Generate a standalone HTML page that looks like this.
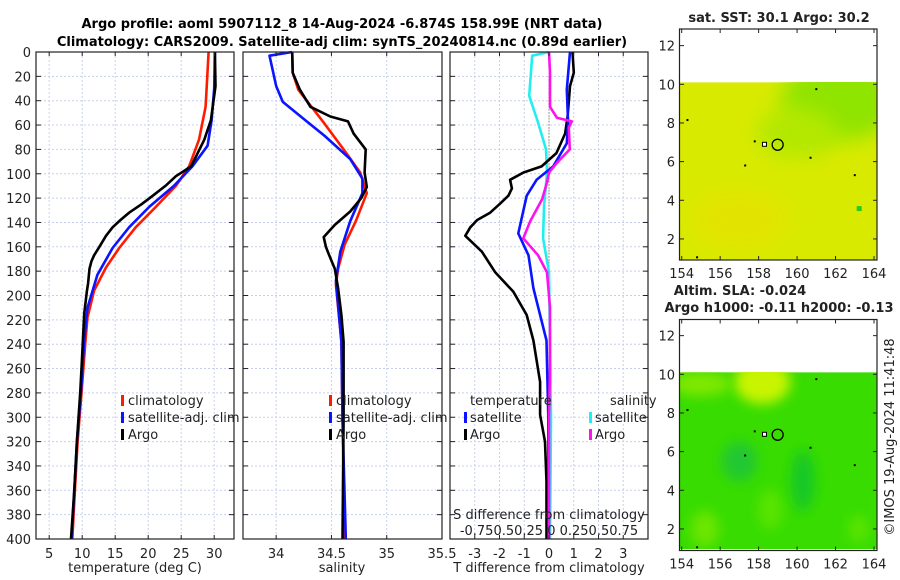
<!DOCTYPE html>
<html><head><meta charset="utf-8">
<style>
html,body{margin:0;padding:0;background:#fff;}
svg{display:block;font-family:"DejaVu Sans","Liberation Sans",sans-serif;}
</style></head>
<body>
<svg id="chart" width="900" height="580" viewBox="0 0 900 580" xmlns="http://www.w3.org/2000/svg">
<defs>
<filter id="blur6" x="-50%" y="-50%" width="200%" height="200%"><feGaussianBlur stdDeviation="6"/></filter>
<filter id="blur10" x="-50%" y="-50%" width="200%" height="200%"><feGaussianBlur stdDeviation="10"/></filter>
<clipPath id="clipTop"><rect x="680" y="82" width="197" height="178"/></clipPath>
<clipPath id="clipBot"><rect x="680" y="372" width="197" height="177"/></clipPath>
</defs>
<text x="342" y="28" text-anchor="middle" font-size="13" font-weight="bold">Argo profile: aoml 5907112_8 14-Aug-2024 -6.874S 158.99E (NRT data)</text>
<text x="342" y="46" text-anchor="middle" font-size="13" font-weight="bold">Climatology: CARS2009. Satellite-adj clim: synTS_20240814.nc (0.89d earlier)</text>
<g id="layer"></g>
</svg>
<script>
// ---- Data ----
const depthTicks = [0,20,40,60,80,100,120,140,160,180,200,220,240,260,280,300,320,340,360,380,400];
const tempTicks = [5,10,15,20,25,30];
const salTicks = [34,34.5,35,35.5];
const diffTicks = [-3,-2,-1,0,1,2,3];

const tClimDepth = [0,45,72,94,110,127,144,161,177,196,218,237,280,320,360,400];
const tClimVal   = [29.15,28.7,27.7,26.2,24.2,21.2,18.1,15.6,13.6,11.8,10.8,10.5,9.9,9.3,8.9,8.5];
const tSatDepth  = [0,30,56,77,94,110,127,144,161,183,210,237,280,320,360,400];
const tSatVal    = [30.1,30.0,29.6,29.0,26.7,23.9,20.2,17.1,14.6,12.3,10.8,10.3,9.8,9.2,8.8,8.4];
const tArgoDepth = [0,28,56,72,94,102,110,118,125,132,138,144,151,160,167,172,178,190,197,215,237,260,280,320,360,400];
const tArgoVal   = [30.1,30.2,29.5,28.5,26.5,24.2,22.6,20.7,19.0,17.1,15.8,14.6,13.6,12.6,11.8,11.4,11.1,10.9,10.7,10.3,10.1,9.9,9.7,9.2,8.8,8.3];

const sClimDepth = [0,17,31,45,58,80,99,116,139,158,178,191,238,300,400];
const sClimVal   = [34.145,34.15,34.2,34.32,34.43,34.61,34.76,34.82,34.72,34.62,34.56,34.54,34.59,34.6,34.62];
const sSatDepth  = [0,3,28,41,55,69,88,104,116,139,164,188,238,300,400];
const sSatVal    = [34.145,33.94,34.0,34.06,34.25,34.44,34.67,34.78,34.78,34.67,34.58,34.54,34.59,34.6,34.63];
const sArgoDepth = [0,17,31,45,53,57,67,80,99,111,120,131,142,152,160,167,178,194,216,238,300,400];
const sArgoVal   = [34.145,34.15,34.215,34.31,34.49,34.65,34.70,34.81,34.80,34.82,34.77,34.67,34.53,34.43,34.45,34.48,34.53,34.56,34.59,34.61,34.61,34.6];

const dTArgoDepth = [0,17,28,53,67,83,94,99,105,112,118,125,132,138,144,151,164,181,197,216,237,271,298,320,353,400];
const dTArgoVal   = [0.95,1.0,0.85,0.75,0.65,0.3,-0.3,-1.03,-1.57,-1.5,-1.64,-2.0,-2.38,-2.9,-3.18,-3.38,-2.71,-2.17,-1.44,-0.9,-0.63,-0.36,-0.36,-0.16,-0.1,-0.1];
const dTSatDepth  = [0,31,58,75,94,105,118,149,167,194,237,300,400];
const dTSatVal    = [0.85,0.72,0.77,0.72,0.17,-0.5,-0.9,-1.24,-0.83,-0.63,-0.1,-0.03,-0.02];
const dSArgoDepth = [0,17,45,54,57,62,80,91,99,107,121,139,153,167,181,210,260,300,400];
const dSArgoVal   = [0.0,0.01,0.01,0.08,0.23,0.2,0.21,0.08,0.0,-0.02,-0.07,-0.19,-0.26,-0.11,-0.02,0.01,0.01,0.0,0.0];
const dSSatDepth  = [0,3,36,58,80,99,127,153,181,240,300,400];
const dSSatVal    = [0.0,-0.17,-0.2,-0.11,-0.03,-0.02,-0.05,-0.06,0.0,0.01,0.02,0.01];

const mapXTicks = [154,156,158,160,162,164];
const mapYTicks = [2,4,6,8,10,12];

// ---- Helpers ----
const NS = "http://www.w3.org/2000/svg";
const layer = document.getElementById('layer');
function mk(tag, attrs, parent){ const e=document.createElementNS(NS,tag); for(const k in attrs) e.setAttribute(k,attrs[k]); (parent||layer).appendChild(e); return e; }
const Y0=52, Y1=539;
const yD = d => Y0 + d*(Y1-Y0)/400;
function xScale(x0,x1,v0,v1){ return v => x0 + (v-v0)*(x1-x0)/(v1-v0); }

const p1 = {x0:36,x1:234}, p2={x0:243,x1:442}, p3={x0:450,x1:648};
const xT = xScale(p1.x0,p1.x1,3.0,33.0);
const xS = xScale(p2.x0,p2.x1,33.7,35.5);
const xDT = xScale(p3.x0,p3.x1,-4,4);
const xDS = v => xDT(v*4);

function panel(p, xticks, xf, name){
  const g = mk('g',{});
  
  
  xticks.forEach(v=>{ const x=xf(v); if(x>p.x0+1 && x<p.x1-1){
    const l=mk('line',{x1:x,x2:x,y1:Y0,y2:Y1,stroke:'#c8cfee','stroke-width':1,'stroke-dasharray':'2,2'},g);
      }});
  depthTicks.forEach(d=>{ const y=yD(d); if(d>0&&d<400){
    const l=mk('line',{x1:p.x0,x2:p.x1,y1:y,y2:y,stroke:'#c8cfee','stroke-width':1,'stroke-dasharray':'2,2'},g);
      }});
  return g;
}
function frame(p, xticks, xf, g){
  xticks.forEach(v=>{ const x=xf(v);
    const t=mk('line',{x1:x,x2:x,y1:Y1,y2:Y1-4,stroke:'#222','stroke-width':1},g);
     
    const t2=mk('line',{x1:x,x2:x,y1:Y0,y2:Y0+4,stroke:'#222','stroke-width':1},g);
     
  });
  depthTicks.forEach(d=>{ const y=yD(d);
    const a=mk('line',{x1:p.x0,x2:p.x0+5,y1:y,y2:y,stroke:'#222','stroke-width':1},g);
     
    const b=mk('line',{x1:p.x1-5,x2:p.x1,y1:y,y2:y,stroke:'#222','stroke-width':1},g);
     
  });
  const r=mk('rect',{x:p.x0,y:Y0,width:p.x1-p.x0,height:Y1-Y0,fill:'none',stroke:'#222','stroke-width':1.2},g);
   
}
function line(depths, vals, xf, color, name, g, w){
  const d = depths.map((dd,i)=>(i?'L':'M')+xf(vals[i]).toFixed(1)+','+yD(dd).toFixed(1)).join(' ');
  const p = mk('path',{d:d,fill:'none',stroke:color,'stroke-width':w||2.6,'stroke-linejoin':'round'},g);
  
  
}
function txt(x,y,s,attrs,name,g){
  const t=mk('text',Object.assign({x:x,y:y,'font-size':13,fill:'#222'},attrs||{}),g);
  t.textContent=s;
  
  
  return t;
}
function legendBar(x,y,color,name,g){
  const r=mk('rect',{x:x,y:y-10,width:3,height:11,fill:color},g);
  
  
}

// Panel 1: temperature
const g1 = panel(p1,tempTicks,xT,'temperature-panel');
line(tClimDepth,tClimVal,xT,'#ff1a00','temperature-climatology-line',g1);
line(tSatDepth,tSatVal,xT,'#0a14ff','temperature-satellite-line',g1);
line(tArgoDepth,tArgoVal,xT,'#000','temperature-argo-line',g1);
frame(p1,tempTicks,xT,g1);
depthTicks.forEach(d=>txt(31,yD(d)+5,String(d),{'text-anchor':'end'},'y-tick-label',g1));
tempTicks.forEach(v=>txt(xT(v),558,String(v),{'text-anchor':'middle'},'x-tick-label',g1));
txt(135,572,'temperature (deg C)',{'text-anchor':'middle'},'x-axis-title',g1);
legendBar(121,405,'#ff1a00','legend-climatology-swatch',g1);
txt(128,405,'climatology',{},'legend-climatology',g1);
legendBar(121,422,'#0a14ff','legend-satellite-swatch',g1);
txt(128,422,'satellite-adj. clim',{},'legend-satellite-adj',g1);
legendBar(121,439,'#000','legend-argo-swatch',g1);
txt(128,439,'Argo',{},'legend-argo',g1);

// Panel 2: salinity
const g2 = panel(p2,salTicks,xS,'salinity-panel');
line(sClimDepth,sClimVal,xS,'#ff1a00','salinity-climatology-line',g2);
line(sSatDepth,sSatVal,xS,'#0a14ff','salinity-satellite-line',g2);
line(sArgoDepth,sArgoVal,xS,'#000','salinity-argo-line',g2);
frame(p2,salTicks,xS,g2);
salTicks.forEach(v=>txt(xS(v),558,String(v),{'text-anchor':'middle'},'x-tick-label',g2));
txt(342,572,'salinity',{'text-anchor':'middle'},'x-axis-title',g2);
legendBar(329,405,'#ff1a00','legend-climatology-swatch',g2);
txt(336,405,'climatology',{},'legend-climatology',g2);
legendBar(329,422,'#0a14ff','legend-satellite-swatch',g2);
txt(336,422,'satellite-adj. clim',{},'legend-satellite-adj',g2);
legendBar(329,439,'#000','legend-argo-swatch',g2);
txt(336,439,'Argo',{},'legend-argo',g2);

// Panel 3: differences
const g3 = panel(p3,diffTicks,xDT,'difference-panel');
const zl = mk('line',{x1:xDT(0),x2:xDT(0),y1:yD(20),y2:yD(250),stroke:'#555533','stroke-width':1,'stroke-dasharray':'1,2'},g3);
 
line(dSSatDepth,dSSatVal,xDS,'#22eeee','salinity-satellite-diff-line',g3);
line(dTArgoDepth,dTArgoVal,xDT,'#000','temperature-argo-diff-line',g3);
line(dTSatDepth,dTSatVal,xDT,'#0a14ff','temperature-satellite-diff-line',g3);
line(dSArgoDepth,dSArgoVal,xDS,'#ff11ee','salinity-argo-diff-line',g3);
frame(p3,diffTicks,xDT,g3);
diffTicks.forEach(v=>txt(xDT(v),558,String(v),{'text-anchor':'middle'},'x-tick-label',g3));
txt(549,572,'T difference from climatology',{'text-anchor':'middle'},'x-axis-title',g3);
txt(549,519,'S difference from climatology',{'text-anchor':'middle'},'s-axis-title',g3);
txt(549,535,'-0.750.50.25 0 0.250.50.75',{'text-anchor':'middle'},'s-axis-tick-labels',g3);
txt(470,405,'temperature',{},'legend-temperature-header',g3);
legendBar(464,422,'#0a14ff','legend-t-satellite-swatch',g3);
txt(470,422,'satellite',{},'legend-t-satellite',g3);
legendBar(464,439,'#000','legend-t-argo-swatch',g3);
txt(470,439,'Argo',{},'legend-t-argo',g3);
txt(610,405,'salinity',{},'legend-salinity-header',g3);
legendBar(589,422,'#22eeee','legend-s-satellite-swatch',g3);
txt(595,422,'satellite',{},'legend-s-satellite',g3);
legendBar(589,439,'#ff11ee','legend-s-argo-swatch',g3);
txt(595,439,'Argo',{},'legend-s-argo',g3);

// ---- Maps ----
const mx = v => 681.7 + (v-154)*19.23;
function mapPanel(top, y10, name, kind){
  const my = v => y10 - (v-10)*19.33;
  const g = mk('g',{});
  
  
  const dataTop = my(10.1), bottom = top+231;
  const clip = kind==='sst' ? 'url(#clipTop)' : 'url(#clipBot)';
  const fg = mk('g',{'clip-path':clip},g);
  
  
  if(kind==='sst'){
    mk('rect',{x:680,y:dataTop,width:197,height:bottom-dataTop,fill:'#d8ea00'},fg);
    mk('ellipse',{cx:mx(162.3),cy:my(9.2),rx:60,ry:40,fill:'#8fe400',filter:'url(#blur10)'},fg);
    mk('ellipse',{cx:mx(160),cy:my(7.5),rx:40,ry:25,fill:'#b2e800',filter:'url(#blur10)'},fg);
    mk('ellipse',{cx:mx(157),cy:my(3),rx:50,ry:30,fill:'#e2e400',filter:'url(#blur10)'},fg);
    mk('rect',{x:mx(163.1),y:my(3.7),width:5,height:5,fill:'#22cc22'},fg);
  } else {
    mk('rect',{x:680,y:dataTop,width:197,height:bottom-dataTop,fill:'#38dc00'},fg);
    mk('ellipse',{cx:mx(158.2),cy:my(9.6),rx:28,ry:22,fill:'#c8f400',filter:'url(#blur6)'},fg);
    mk('ellipse',{cx:mx(155),cy:my(9.5),rx:30,ry:12,fill:'#80e800',filter:'url(#blur6)'},fg);
    mk('ellipse',{cx:mx(157),cy:my(5.5),rx:18,ry:20,fill:'#22c830',filter:'url(#blur6)'},fg);
    mk('ellipse',{cx:mx(160.3),cy:my(4.5),rx:12,ry:30,fill:'#18c828',filter:'url(#blur6)'},fg);
    mk('ellipse',{cx:mx(155.2),cy:my(2),rx:14,ry:18,fill:'#6ce600',filter:'url(#blur6)'},fg);
    mk('ellipse',{cx:mx(158.6),cy:my(3),rx:12,ry:20,fill:'#5ae400',filter:'url(#blur6)'},fg);
    mk('ellipse',{cx:mx(163.2),cy:my(2),rx:10,ry:14,fill:'#5ae400',filter:'url(#blur6)'},fg);
  }
  const c = mk('circle',{cx:mx(158.99),cy:my(6.874),r:5.5,fill:'none',stroke:'#000','stroke-width':1.3},g);
  
  
  mk('rect',{x:mx(158.2),y:my(7.0),width:4,height:4,fill:'#fff',stroke:'#000','stroke-width':1},g);
  [[154.3,8.15],[161,9.75],[157.3,5.8],[160.7,6.2],[163,5.3],[157.8,7.05],[154.8,1.05]].forEach(pt=>{
    mk('rect',{x:mx(pt[0])-1,y:my(pt[1])-1,width:2,height:2,fill:'#000'},g);
  });
  const fr = mk('rect',{x:679.5,y:top,width:197.5,height:231,fill:'none',stroke:'#222','stroke-width':1.2},g);
   
  mapXTicks.forEach(v=>{
    mk('line',{x1:mx(v),x2:mx(v),y1:top+231,y2:top+227,stroke:'#222'},g);
    mk('line',{x1:mx(v),x2:mx(v),y1:top,y2:top+4,stroke:'#222'},g);
    txt(mx(v),top+249,String(v),{'text-anchor':'middle'},'map-x-tick-label',g);
  });
  mapYTicks.forEach(v=>{
    mk('line',{x1:679.5,x2:684,y1:my(v),y2:my(v),stroke:'#222'},g);
    mk('line',{x1:873,x2:877,y1:my(v),y2:my(v),stroke:'#222'},g);
    txt(675,my(v)+5,String(v),{'text-anchor':'end'},'map-y-tick-label',g);
  });
  return g;
}
const gm1 = mapPanel(29, 84.3, 'sst-map', 'sst');
txt(779,22,'sat. SST: 30.1 Argo: 30.2',{'text-anchor':'middle','font-weight':'bold'},'sst-map-title',gm1);
const gm2 = mapPanel(319.5, 374.3, 'sla-map', 'sla');
txt(740,295,'Altim. SLA: -0.024',{'text-anchor':'middle','font-weight':'bold'},'sla-map-title',gm2);
txt(779,312,'Argo h1000: -0.11 h2000: -0.13',{'text-anchor':'middle','font-weight':'bold'},'sla-map-subtitle',gm2);
txt(0,0,'©IMOS 19-Aug-2024 11:41:48',{'text-anchor':'middle',transform:'translate(894,437) rotate(-90)'},'copyright-timestamp');
</script>
</body></html>
